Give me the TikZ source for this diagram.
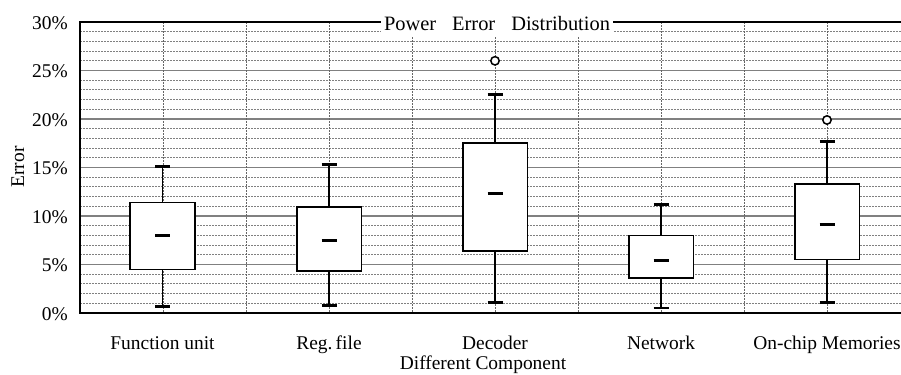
\documentclass[tikz,border=0pt]{standalone}
\usepackage{fontspec}
\setmainfont{Liberation Serif}

% value (in percent) -> vertical position on the page
\newcommand\ypos[1]{313-9.7*(#1)}

% one box-and-whisker: x, lower whisker, Q1, median, Q3, upper whisker
\newcommand\boxwhisk[6]{%
  \draw[whisk] (#1,{\ypos{#2}}) -- (#1,{\ypos{#3}});
  \draw[whisk] (#1,{\ypos{#5}}) -- (#1,{\ypos{#6}});
  \draw[capline] ({#1-7.5},{\ypos{#2}}) -- ({#1+7.5},{\ypos{#2}});
  \draw[capline] ({#1-7.5},{\ypos{#6}}) -- ({#1+7.5},{\ypos{#6}});
  \draw[boxbody] ({#1-32.3},{\ypos{#3}}) rectangle ({#1+32.3},{\ypos{#5}});
  \draw[medline] ({#1-7.5},{\ypos{#4}}) -- ({#1+7.5},{\ypos{#4}});
}

\begin{document}
\begin{tikzpicture}[x=1bp,y=-1bp,
  minorgrid/.style={black!50, line width=0.9bp, dash pattern=on 1.5bp off 1.5bp},
  vgrid/.style={black!60, line width=0.9bp, dash pattern=on 1.5bp off 1.5bp},
  majorgrid/.style={black!50, line width=1.1bp},
  axisline/.style={black, line width=1.4bp},
  boxbody/.style={draw=black, fill=white, line width=1.6bp},
  whisk/.style={black, line width=1.5bp},
  capline/.style={black, line width=2.6bp},
  medline/.style={black, line width=3bp},
  outl/.style={draw=black, fill=white, line width=1.5bp},
  lbl/.style={font=\fontsize{19.5}{22}\selectfont, inner sep=0pt}]

\useasboundingbox (0,0) rectangle (901,374);
\fill[white] (0,0) rectangle (901,374);

% minor horizontal grid, every 1%
\foreach \m in {0,...,5}
  \foreach \k in {1,...,4}
    \draw[minorgrid] (80,{\ypos{5*\m+\k}}) -- (901,{\ypos{5*\m+\k}});

% major horizontal grid, every 5%
\foreach \v in {5,10,15,20,25}
  \draw[majorgrid] (80,{\ypos{\v}}) -- (901,{\ypos{\v}});

% vertical grid
\foreach \i in {1,...,9}
  \draw[vgrid] ({80+83.1*\i},22) -- ({80+83.1*\i},313);

% frame
\draw[axisline] (901,22) -- (80,22) -- (80,313) -- (901,313);

% title sitting on the top frame line
\node[font=\fontsize{20.5}{23}\selectfont, fill=white, anchor=base,
      inner xsep=3bp, inner ysep=2bp, text depth=4bp] (title) at (497,30)
  {Power\hspace{16bp}Error\hspace{16bp}Distribution};

% y tick labels
\foreach \v in {0,5,...,30}
  \node[lbl, anchor=east] (yt\v) at (68,{\ypos{\v}+1}) {\v\%};

\node[lbl, rotate=90, anchor=base] (ylab) at (24,167) {Error};

% boxes
\boxwhisk{162.5}{0.65}{4.5}{8.0}{11.4}{15.1}
\boxwhisk{329}{0.8}{4.3}{7.5}{10.9}{15.3}
\boxwhisk{495}{1.1}{6.4}{12.3}{17.5}{22.5}
\boxwhisk{661}{0.5}{3.6}{5.4}{8.0}{11.2}
\boxwhisk{827}{1.1}{5.5}{9.1}{13.3}{17.7}

% outliers
\draw[outl] (495,{\ypos{26.0}}) circle (4.2);
\draw[outl] (827,{\ypos{19.9}}) circle (4.2);

% category labels
\node[lbl, anchor=base] (c1) at (162.5,349) {Function unit};
\node[lbl, anchor=base] (c2) at (329,349) {Reg.\,file};
\node[lbl, anchor=base] (c3) at (495,349) {Decoder};
\node[lbl, anchor=base] (c4) at (661,349) {Network};
\node[lbl, anchor=base] (c5) at (827,349) {On-chip Memories};
\node[lbl, anchor=base] (xlab) at (483,369) {Different Component};

\end{tikzpicture}
\end{document}
